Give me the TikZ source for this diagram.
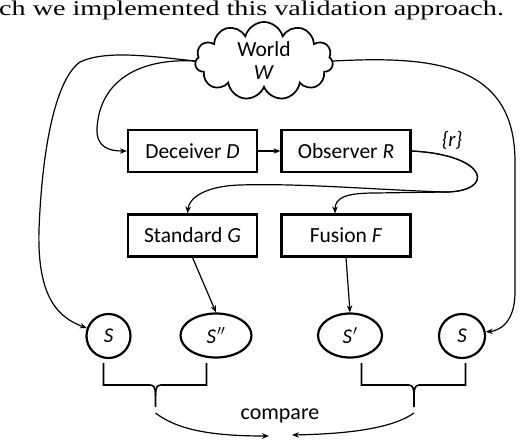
\documentclass[tikz,border=0pt]{standalone}
\usepackage{fontspec}
\setmainfont{Liberation Serif}
\newfontfamily\diagfont{Carlito}
\usetikzlibrary{arrows.meta}
\usetikzlibrary{positioning}
\usetikzlibrary{shapes.geometric}
\usetikzlibrary{shapes.symbols}

\begin{document}
\begin{tikzpicture}[x=1pt,y=-1pt,
					box/.style={draw, line width=2.2pt, minimum width=129pt, minimum height=42pt, inner sep=0pt, font=\diagfont\fontsize{21.5}{24}\selectfont},
					state/.style={draw, line width=2.2pt, ellipse, inner sep=0pt, minimum height=44pt, font=\diagfont\itshape\fontsize{21}{24}\selectfont},
					link/.style={line width=1.2pt, -{Stealth[length=7pt,width=5.5pt]}},
					bracket/.style={line width=1.6pt},
				]
					\useasboundingbox (0,0) rectangle (528,440);
					\node[anchor=base west, inner sep=0pt, font=\fontsize{21}{24}\selectfont] (caption) at (-1,15) {\scalebox{1.34}[1]{ch we implemented this validation approach.}};
					
					% world, actors and estimates
					\node[cloud, draw, line width=1.7pt, cloud puffs=11, aspect=1.8, minimum width=138pt, minimum height=78pt, inner sep=0pt, align=center, font=\diagfont\fontsize{21.5}{23}\selectfont] (world) at (264,61) {World\\\textit{W}};
					\node[box] (deceiver) at (192.5,151) {Deceiver \textit{D}};
					\node[box] (observer) at (346,151) {Observer \textit{R}};
					\node[box] (standard) at (192.5,235.5) {Standard \textit{G}};
					\node[box] (fusion) at (346,235.5) {Fusion \textit{F}};
					\node[font=\diagfont\itshape\fontsize{21}{24}\selectfont] (rset) at (452,140) {\{r\}};
					
					\node[state, minimum width=44pt] (sL) at (108.5,336) {S};
					\node[state, minimum width=71pt] (sDouble) at (216,335.5) {S\kern1pt$''$};
					\node[state, minimum width=64pt] (sPrime) at (350,335.5) {S\kern1pt$'$};
					\node[state, minimum width=46pt] (sR) at (462,336) {S};
					
					\node[font=\diagfont\fontsize{22}{24}\selectfont] (compare) at (280,416) {compare};
					\coordinate (tipL) at (155.5,413);
					\coordinate (tipR) at (414,413);
					\coordinate (cmpL) at (269,436);
					\coordinate (cmpR) at (292,435);
					
					% connectors
					\draw[link] (world.west) .. controls (150,56) and (105,50) .. (80,62) .. controls (55,80) and (42,150) .. (39,230) .. controls (37,300) and (60,318) .. (sL.160);
					\draw[link] (world.west) .. controls (140,58) and (100,80) .. (97,128) .. controls (96,148) and (110,151) .. (deceiver.west);
					\draw[link] (world.east) .. controls (430,56) and (514,62) .. (515,160) -- (515,292) .. controls (515,325) and (497,331) .. (sR.10);
					\draw[link] (deceiver) -- (observer);
					\draw[link] (observer.east) .. controls (490,155) and (495,192) .. (445,192) -- (375,193) .. controls (345,193) and (335,198) .. ([xshift=-11pt]fusion.north);
					\draw[link] (observer.east) .. controls (490,155) and (495,192) .. (445,192) .. controls (380,190) and (300,183) .. (240,185) .. controls (205,186) and (189,198) .. ([xshift=-5pt]standard.north);
					\draw[link] (standard.south) -- (sDouble.north);
					\draw[link] (fusion.south) -- (sPrime.north);
					
					% brackets
					\draw[bracket] (103.5,363) -- (103.5,385) -- (150,385) .. controls (154,385) and (155.5,388) .. (155.5,395) -- (155.5,407);
					\draw[bracket] (206.5,363) -- (206.5,385) -- (161,385) .. controls (157,385) and (155.5,388) .. (155.5,395);
					\draw[bracket] (361.5,363) -- (361.5,385) -- (408.5,385) .. controls (412.5,385) and (414,388) .. (414,395) -- (414,407);
					\draw[bracket] (465.5,363) -- (465.5,385) -- (419.5,385) .. controls (415.5,385) and (414,388) .. (414,395);
					\draw[link] (tipL) .. controls (180,432) and (220,436) .. (cmpL);
					\draw[link] (tipR) .. controls (390,430) and (340,434) .. (cmpR);
				\end{tikzpicture}
\end{document}
